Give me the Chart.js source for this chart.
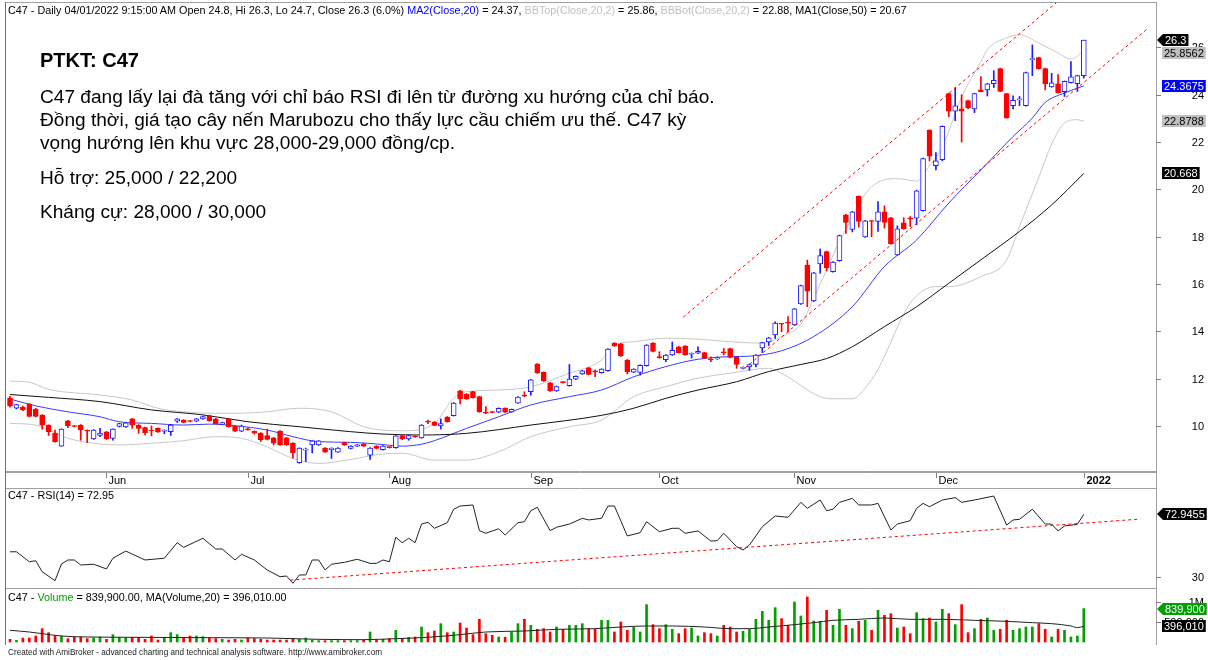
<!DOCTYPE html>
<html lang="vi">
<head>
<meta charset="utf-8">
<title>C47 - Daily</title>
<script src="https://cdn.jsdelivr.net/npm/chart.js@4.4.1/dist/chart.umd.min.js"></script>
<style>
html,body{margin:0;padding:0;background:#fff;}
#wrap{position:relative;width:1208px;height:660px;overflow:hidden;font-family:"Liberation Sans",Arial,sans-serif;color:#000;}
canvas{position:absolute;left:0;}
.t{position:absolute;white-space:nowrap;font-size:10.8px;line-height:12px;}
.note{position:absolute;left:40px;white-space:nowrap;font-size:19.1px;line-height:22px;}
</style>
</head>
<body>
<div id="wrap">
<canvas id="cP" width="1208" height="472" style="top:0px"></canvas>
<canvas id="cR" width="1208" height="117" style="top:472px"></canvas>
<canvas id="cV" width="1208" height="71" style="top:589px"></canvas>

<div class="t" style="left:8px;top:4px">C47 - Daily 04/01/2022 9:15:00 AM Open 24.8, Hi 26.3, Lo 24.7, Close 26.3 (6.0%) <span style="color:#0000ff">MA2(Close,20)</span> = 24.37, <span style="color:#c0c0c0">BBTop(Close,20,2)</span> = 25.86, <span style="color:#c0c0c0">BBBot(Close,20,2)</span> = 22.88, MA1(Close,50) = 20.67</div>
<div class="t" style="left:8px;top:489px">C47 - RSI(14) = 72.95</div>
<div class="t" style="left:8px;top:591px">C47 - <span style="color:#00a000">Volume</span> = 839,900.00, MA(Volume,20) = 396,010.00</div>
<div class="t" style="left:8px;top:647px;font-size:8.2px;color:#222">Created with AmiBroker - advanced charting and technical analysis software. http://www.amibroker.com</div>

<div class="note" style="top:49px;font-weight:bold;font-size:20px">PTKT: C47</div>
<div class="note" style="top:86px">C47 đang lấy lại đà tăng với chỉ báo RSI đi lên từ đường xu hướng của chỉ báo.</div>
<div class="note" style="top:109px">Đồng thời, giá tạo cây nến Marubozu cho thấy lực cầu chiếm ưu thế. C47 kỳ</div>
<div class="note" style="top:132px">vọng hướng lên khu vực 28,000-29,000 đồng/cp.</div>
<div class="note" style="top:167px">Hỗ trợ: 25,000 / 22,200</div>
<div class="note" style="top:201px">Kháng cự: 28,000 / 30,000</div>
</div>

<script>
// ---------------- DATA ----------------
const OPEN = [
11.18,10.75,10.80,10.93,10.72,10.46,10.04,9.70,9.15,10.22,
10.00,10.04,9.82,9.45,9.60,9.75,9.48,9.98,9.96,10.30,
10.04,9.93,9.81,9.90,9.78,9.76,10.20,10.25,10.21,10.20,
10.30,10.44,10.30,10.08,10.30,10.00,9.78,9.87,9.78,9.70,
9.60,9.50,9.79,9.50,9.28,8.45,8.98,9.20,9.20,9.07,
9.00,8.90,9.30,9.05,9.15,9.25,8.77,9.15,9.00,9.11,
9.08,9.60,9.45,9.56,9.50,10.18,10.17,10.00,10.38,10.44,
11.49,11.35,11.45,11.24,10.56,10.59,10.58,10.75,10.60,10.97,
11.28,11.45,12.62,12.27,11.82,11.48,11.85,11.70,11.98,12.20,
12.46,12.31,12.25,12.34,13.50,13.47,12.79,12.27,12.26,12.55,
13.50,12.91,12.80,13.00,13.35,13.38,13.03,13.08,13.10,12.81,
12.83,13.11,13.27,12.90,12.43,12.50,12.60,13.30,13.55,13.85,
14.32,14.36,14.27,15.16,16.80,15.28,16.85,17.37,16.52,16.98,
18.92,18.30,19.70,17.99,18.66,18.64,19.05,18.80,17.23,18.58,
18.77,18.78,19.10,22.50,21.00,21.25,24.04,23.30,23.40,23.75,
23.40,24.20,24.20,24.46,25.10,24.04,23.53,23.78,23.53,25.48,
25.56,25.10,24.33,24.46,24.12,24.50,24.46,24.80];
const HIGH = [
11.25,10.92,10.84,10.95,10.75,10.48,10.05,9.83,9.88,10.24,
10.02,10.06,9.84,9.85,9.90,9.77,9.88,10.12,10.15,10.32,
10.06,9.95,10.00,9.92,9.84,10.06,10.32,10.27,10.23,10.32,
10.42,10.46,10.32,10.16,10.32,10.02,10.04,9.92,9.80,9.72,
9.87,9.52,9.81,9.52,9.30,9.08,9.07,9.38,9.39,9.09,
9.08,9.09,9.32,9.17,9.22,9.27,9.09,9.17,9.17,9.13,
9.60,9.63,9.62,9.58,10.06,10.25,10.19,10.30,10.40,10.99,
11.51,11.37,11.47,11.26,10.82,10.62,10.77,10.77,10.72,11.24,
11.45,11.97,12.64,12.29,11.84,11.69,11.87,12.60,12.12,12.35,
12.48,12.37,12.42,13.27,13.52,13.49,12.81,12.42,12.58,13.44,
13.52,13.14,13.02,13.55,13.37,13.40,13.09,13.35,13.12,12.92,
12.92,13.28,13.29,12.92,12.50,12.62,13.02,13.54,13.75,14.40,
14.34,14.62,14.97,15.95,17.01,16.49,17.48,17.39,16.95,18.07,
18.94,19.07,19.72,18.69,18.68,19.48,19.30,18.82,18.45,18.80,
18.85,19.96,21.32,22.52,21.55,22.68,24.06,24.30,24.00,23.77,
24.06,24.76,24.48,25.01,25.12,24.06,23.95,23.92,24.95,26.10,
25.58,25.12,24.90,24.85,24.58,25.40,24.82,26.30];
const LOW = [
10.80,10.72,10.65,10.38,10.38,9.87,9.60,9.32,9.14,9.93,
9.96,9.40,9.30,9.43,9.55,9.43,9.40,9.96,9.94,9.90,
9.69,9.62,9.58,9.73,9.68,9.60,10.15,10.13,10.17,10.18,
10.28,10.20,10.08,10.06,9.95,9.76,9.76,9.82,9.66,9.35,
9.41,9.20,9.18,9.18,8.64,8.43,8.50,8.86,9.18,8.88,
8.63,8.88,9.18,9.03,9.13,9.13,8.59,9.03,8.98,9.07,
9.06,9.42,9.40,9.52,9.48,10.10,10.01,9.87,10.16,10.42,
10.93,11.12,11.18,10.58,10.52,10.55,10.56,10.56,10.58,10.95,
11.24,11.30,12.22,11.88,11.46,11.46,11.81,11.68,11.96,12.18,
12.16,12.08,12.23,12.32,13.36,12.94,12.20,12.25,12.15,12.53,
13.13,12.86,12.72,12.98,13.08,12.98,12.87,13.06,12.85,12.72,
12.81,13.00,12.88,12.44,12.41,12.35,12.50,13.10,13.40,13.70,
13.98,13.98,14.25,15.14,15.04,15.26,16.45,16.55,16.50,16.96,
18.14,18.20,18.40,17.97,18.00,18.22,18.36,17.68,17.21,18.31,
18.43,18.50,19.08,21.20,20.82,21.20,23.07,22.90,22.00,23.40,
23.24,24.11,23.94,24.30,24.12,23.00,23.40,23.53,23.51,24.80,
25.08,24.20,24.31,24.06,23.92,24.48,24.13,24.70];
const CLOSE = [
10.85,10.90,10.68,10.40,10.40,10.04,9.76,9.34,9.87,10.00,
9.98,9.83,9.78,9.83,9.70,9.45,9.87,10.10,10.13,10.04,
9.90,9.72,9.79,9.75,9.82,10.04,10.30,10.15,10.19,10.30,
10.40,10.22,10.10,10.14,9.97,9.78,10.00,9.84,9.70,9.42,
9.43,9.27,9.20,9.20,8.87,9.07,9.02,9.37,9.37,8.90,
9.07,9.07,9.20,9.15,9.20,9.15,9.07,9.05,9.15,9.09,
9.58,9.45,9.60,9.54,10.04,10.16,10.03,10.10,10.18,10.97,
11.14,11.14,11.20,10.60,10.54,10.57,10.75,10.58,10.70,11.22,
11.26,11.95,12.24,11.90,11.48,11.67,11.83,11.98,12.10,12.33,
12.18,12.29,12.40,13.25,13.38,12.96,12.30,12.40,12.56,13.42,
13.15,12.89,13.00,13.20,13.10,13.00,13.07,13.15,12.87,12.79,
12.88,13.09,12.90,12.60,12.48,12.60,13.00,13.52,13.73,14.35,
14.30,14.34,14.95,15.93,15.70,16.47,17.20,16.68,16.93,18.05,
18.60,19.05,18.64,18.67,18.64,19.05,18.60,17.70,18.33,18.33,
18.75,19.94,21.30,21.40,21.20,22.66,23.30,23.53,23.30,23.44,
24.04,24.13,24.46,24.60,24.14,23.02,23.76,23.82,24.93,25.52,
25.10,24.46,24.50,24.08,24.56,24.75,24.80,26.30];
const VOLUME = [
67000,42000,101000,101000,151000,336000,235000,151000,151000,84000,
126000,126000,84000,101000,126000,67000,185000,118000,101000,118000,
118000,67000,151000,50000,118000,235000,185000,118000,151000,151000,
134000,101000,84000,67000,50000,67000,50000,101000,84000,67000,
50000,50000,50000,50000,84000,67000,101000,50000,34000,34000,
34000,34000,34000,34000,34000,50000,252000,50000,67000,84000,
294000,84000,118000,126000,378000,235000,277000,462000,235000,252000,
479000,353000,185000,571000,210000,168000,126000,118000,252000,462000,
571000,420000,319000,336000,252000,378000,319000,420000,420000,462000,
336000,319000,546000,546000,252000,504000,294000,378000,252000,941000,
437000,336000,437000,319000,210000,336000,353000,151000,235000,210000,
151000,420000,378000,252000,269000,319000,571000,773000,546000,865000,
588000,420000,1008000,655000,1134000,529000,521000,798000,420000,823000,
420000,336000,521000,546000,294000,798000,672000,714000,353000,378000,
210000,739000,588000,605000,504000,823000,714000,437000,941000,235000,
336000,571000,605000,294000,319000,546000,294000,336000,378000,378000,
462000,319000,126000,319000,294000,126000,151000,839900];

// indicator lines, read as [bar index, value]
const MA20 = [[0,11.14],[4,10.85],[9,10.6],[14,10.39],[17,10.18],[22,10.11],[27,10.04],[31,10.08],[35,10.01],[40,9.83],[44,9.55],[48,9.34],[53,9.31],[57,9.24],[61,9.15],[64,9.23],[66,9.38],[71,9.9],[76,10.39],[81,10.89],[87,11.24],[92,11.52],[97,12.08],[102,12.51],[107,12.82],[112,12.93],[115,12.95],[120,13.18],[125,13.78],[131,15.04],[136,16.74],[141,17.86],[146,19.42],[151,20.82],[154,21.67],[156,22.23],[159,23.01],[161,23.67],[164,24.07],[167,24.3675]];
const MA50 = [[0,11.33],[6,11.21],[14,11.03],[22,10.68],[30,10.47],[37,10.18],[45,9.97],[53,9.76],[58,9.66],[64,9.62],[71,9.69],[81,10.04],[92,10.45],[97,10.75],[102,11.17],[107,11.52],[113,11.87],[118,12.3],[123,12.6],[127,12.85],[131,13.35],[136,14.2],[141,15.04],[146,16.03],[151,17.02],[157,18.22],[162,19.34],[167,20.668]];
const BB_TOP = [[0,11.9],[3,11.85],[6,11.55],[14,11.31],[19,11.1],[23,10.75],[27,10.6],[32,10.54],[36,10.54],[40,10.6],[45,10.75],[50,10.6],[55,9.97],[61,9.8],[66,10.11],[69,11.17],[71,11.45],[76,11.52],[81,11.66],[87,12.23],[92,12.79],[94,13.42],[97,13.56],[102,13.71],[107,13.67],[112,13.56],[117,13.5],[120,13.78],[123,14.3],[125,15.4],[127,16.6],[129,17.8],[131,18.8],[133,19.8],[135,20.3],[138,20.45],[141,20.35],[143,21.0],[145,21.8],[148,23.9],[151,25.4],[152,25.9],[155,26.4],[157,26.53],[160,26.18],[163,25.76],[165,25.5],[167,25.8562]];
const BB_BOT = [[0,10.11],[4,10.04],[9,9.48],[14,9.24],[17,9.2],[22,9.27],[27,9.38],[32,9.55],[36,9.48],[40,9.12],[44,8.63],[48,8.42],[53,8.59],[58,8.82],[61,8.85],[66,8.56],[71,8.56],[76,8.91],[81,9.55],[87,9.97],[92,10.25],[97,11.24],[102,11.66],[107,12.02],[112,12.23],[118,12.44],[120,12.23],[126,11.24],[128,11.15],[131,11.15],[133,11.6],[135,12.4],[140,15.19],[144,15.89],[146,15.89],[151,16.31],[155,17.02],[157,18.43],[160,20.5],[162,21.9],[164,22.8],[166,22.94],[167,22.8788]];
const RSI14 = [[0,47.4],[1,47.4],[3,40.6],[4,41.3],[5,33.8],[7,27.7],[8,39.1],[9,41.8],[10,41.8],[11,38.4],[13,38.9],[15,35.7],[16,43.0],[18,47.9],[21,41.8],[24,43.0],[26,53.6],[27,50.4],[30,56.6],[32,49.3],[33,49.3],[35,41.8],[36,45.7],[38,41.8],[40,35.0],[42,30.4],[43,30.9],[44,25.9],[45,31.6],[46,31.6],[47,41.8],[48,41.8],[49,35.0],[50,38.9],[52,40.2],[54,42.3],[56,39.5],[57,39.5],[58,41.8],[59,40.6],[60,57.3],[61,53.6],[62,56.6],[63,53.6],[64,66.3],[65,67.5],[66,63.4],[68,67.2],[69,76.4],[70,78.6],[72,79.3],[73,61.8],[74,60.0],[76,63.1],[77,58.8],[79,67.2],[80,67.9],[81,75.4],[82,77.7],[84,61.8],[85,64.1],[87,66.3],[89,70.2],[90,69.1],[92,70.2],[93,78.6],[94,78.6],[96,58.2],[98,60.4],[99,67.9],[101,61.1],[103,63.4],[104,63.4],[105,60.0],[107,61.6],[109,54.7],[110,55.0],[111,60.0],[113,50.9],[114,48.6],[115,52.0],[117,64.5],[119,71.8],[121,70.9],[123,81.1],[124,77.0],[126,82.7],[127,75.4],[128,76.4],[129,81.1],[131,83.8],[132,79.3],[134,79.3],[135,80.4],[137,62.2],[138,66.3],[140,68.6],[141,77.0],[142,80.4],[143,78.1],[145,82.7],[147,84.3],[148,81.1],[150,82.7],[153,85.4],[155,65.6],[156,69.1],[157,69.5],[159,76.4],[161,66.3],[162,66.3],[163,61.6],[164,65.0],[166,66.1],[167,72.9455]];
const VOL_MA20 = [[0,294000],[3,252000],[5,210000],[8,151000],[12,126000],[20,118000],[30,109000],[40,101000],[48,67000],[55,59000],[60,84000],[65,118000],[70,185000],[74,252000],[80,277000],[85,319000],[91,336000],[95,378000],[99,403000],[103,403000],[108,378000],[112,336000],[115,336000],[118,378000],[122,437000],[125,487000],[128,546000],[132,571000],[136,605000],[140,571000],[145,571000],[150,546000],[155,521000],[159,487000],[162,462000],[165,403000],[166,361000],[167,396010]];

// hand-drawn trend lines [bar index, value]
const PRICE_TREND_UP = [[104.7,14.6],[165,28.4]];
const PRICE_TREND_LOW = [[114.3,12.45],[176.8,26.76]];
const RSI_TREND = [[43.6,28.1],[175.8,69.7]];

// axis ticks / labels
const MONTH_TICKS = [15,37,59,81,101,122,144,167];
const MONTH_LABELS = ['Jun','Jul','Aug','Sep','Oct','Nov','Dec','2022'];
const PRICE_TICKS = [10,12,14,16,18,20,22,24,26];
const RSI_TICKS = [30];
const VOL_TICKS = [500000,1000000];
const VOL_TICK_LABELS = ['500,000','1M'];
const PRICE_TAG_VALUES = [26.3,25.8562,24.3675,22.8788,20.668];
const RSI_TAG_VALUES = [72.9455];
const VOL_TAG_VALUES = [839900,396010];

// ---------------- drawing ----------------
const BLUE = '#1c1cff', RED = '#ff0000', GREEN = '#00a000', FRAME = '#a0a0a0';
const FONT = '"Liberation Sans", Arial, sans-serif';
const IDX = CLOSE.map((_, i) => i);
const isUp = i => CLOSE[i] >= OPEN[i];
const pts = arr => arr.map(([x, y]) => ({x, y}));
const X_SCALE = {type:'linear', min:-0.78, max:178.23, display:false, offset:false};
const baseOpts = (pad, yMin, yMax) => ({
  animation:false, responsive:false, devicePixelRatio:1, events:[],
  layout:{padding:pad},
  plugins:{legend:{display:false}, tooltip:{enabled:false}},
  scales:{x:X_SCALE, y:{type:'linear', min:yMin, max:yMax, display:false}}
});
function lineDS(arr, color, extra) {
  return Object.assign({type:'line', data:pts(arr), borderColor:color, borderWidth:1,
    pointRadius:0, fill:false, tension:0, order:5}, extra || {});
}
function hline(ctx, x1, x2, y) { ctx.beginPath(); ctx.moveTo(x1, y); ctx.lineTo(x2, y); ctx.stroke(); }
function vline(ctx, x, y1, y2) { ctx.beginPath(); ctx.moveTo(x, y1); ctx.lineTo(x, y2); ctx.stroke(); }

function drawTicks(ctx, scale, values, labels) {
  ctx.strokeStyle = '#808080'; ctx.fillStyle = '#000';
  ctx.font = '11px ' + FONT; ctx.textAlign = 'right'; ctx.textBaseline = 'middle';
  values.forEach((v, k) => {
    const y = Math.round(scale.getPixelForValue(v)) + 0.5;
    hline(ctx, 1156, 1161, y);
    ctx.fillText(labels ? labels[k] : String(v), 1204, y);
  });
}
function drawTag(ctx, y, text, bg, fg, arrow) {
  ctx.font = '11px ' + FONT;
  const w = ctx.measureText(text).width + 4, h = 12;
  const x0 = arrow ? 1163 : 1162;
  ctx.fillStyle = bg;
  ctx.beginPath();
  if (arrow) {
    ctx.moveTo(1157, y); ctx.lineTo(x0, y - h / 2); ctx.lineTo(x0 + w, y - h / 2);
    ctx.lineTo(x0 + w, y + h / 2); ctx.lineTo(x0, y + h / 2); ctx.closePath();
  } else {
    ctx.rect(x0, y - h / 2, w, h);
  }
  ctx.fill();
  ctx.fillStyle = fg; ctx.textAlign = 'left'; ctx.textBaseline = 'middle';
  ctx.fillText(text, x0 + 2, y + 0.5);
}
function drawTags(ctx, scale, values, fmt, styles) {
  const items = values.map((v, k) => ({y: scale.getPixelForValue(v), text: fmt(v), s: styles[k]}));
  const order = items.slice().sort((a, b) => a.y - b.y);
  for (let k = 1; k < order.length; k++) if (order[k].y < order[k - 1].y + 13) order[k].y = order[k - 1].y + 13;
  items.slice().reverse().forEach(it => drawTag(ctx, Math.round(it.y), it.text, it.s.bg, it.s.fg, it.s.arrow));
}

// ---- price pane ----
new Chart(document.getElementById('cP'), {
  type:'bar',
  data:{datasets:[
    {label:'body', data:IDX.map(i => ({x:i, y:[OPEN[i], CLOSE[i]]})),
      backgroundColor:c => isUp(c.dataIndex) ? '#ffffff' : RED,
      borderColor:c => isUp(c.dataIndex) ? BLUE : RED,
      borderWidth:1, borderSkipped:false, barThickness:5, minBarLength:1, grouped:false, order:1},
    {label:'wick', data:IDX.map(i => ({x:i, y:[LOW[i], HIGH[i]]})),
      backgroundColor:c => isUp(c.dataIndex) ? BLUE : RED,
      borderWidth:0, barThickness:1, grouped:false, order:2},
    lineDS(BB_TOP, '#c8c8c8', {cubicInterpolationMode:'monotone', order:7}),
    lineDS(BB_BOT, '#c8c8c8', {cubicInterpolationMode:'monotone', order:7}),
    lineDS(MA50, '#111111', {cubicInterpolationMode:'monotone', order:6}),
    lineDS(MA20, '#3a3aff', {cubicInterpolationMode:'monotone', order:6}),
    lineDS(PRICE_TREND_UP, RED, {borderDash:[3,3], order:0}),
    lineDS(PRICE_TREND_LOW, RED, {borderDash:[3,3], order:0})
  ]},
  options: baseOpts({left:5, top:2, right:52, bottom:0}, 8.057, 27.913),
  plugins:[{id:'decoP', afterDraw(chart) {
    const ctx = chart.ctx, a = chart.chartArea, ys = chart.scales.y;
    ctx.save();
    ctx.lineWidth = 1; ctx.strokeStyle = FRAME;
    hline(ctx, 5, 1156, a.top + 0.5);
    hline(ctx, 5, 1156, a.bottom - 0.5);
    vline(ctx, 1156.5, a.top, a.bottom);
    ctx.strokeStyle = '#707070';
    vline(ctx, 5.5, a.top, a.bottom);
    drawTicks(ctx, ys, PRICE_TICKS);
    drawTags(ctx, ys, PRICE_TAG_VALUES, v => String(v), [
      {bg:'#000', fg:'#fff', arrow:true}, {bg:'#c0c0c0', fg:'#000'}, {bg:'#0000ff', fg:'#fff'},
      {bg:'#c0c0c0', fg:'#000'}, {bg:'#000', fg:'#fff'}]);
    ctx.restore();
  }}]
});

// ---- RSI pane (with date band on top) ----
new Chart(document.getElementById('cR'), {
  type:'line',
  data:{datasets:[
    lineDS(RSI14, '#222222', {order:2}),
    lineDS(RSI_TREND, RED, {borderDash:[3,3], order:1})
  ]},
  options: baseOpts({left:5, top:17, right:52, bottom:1}, 22.71, 90.19),
  plugins:[{id:'decoR', afterDraw(chart) {
    const ctx = chart.ctx, a = chart.chartArea, xs = chart.scales.x, ys = chart.scales.y;
    ctx.save();
    ctx.lineWidth = 1; ctx.strokeStyle = FRAME;
    hline(ctx, 5, 1156, 0.5);
    hline(ctx, 5, 1156, a.top - 0.5);
    hline(ctx, 5, 1156, a.bottom + 0.5);
    vline(ctx, 1156.5, 0, chart.height);
    ctx.strokeStyle = '#707070';
    vline(ctx, 5.5, 0, a.bottom + 1);
    // month band
    ctx.strokeStyle = '#808080'; ctx.fillStyle = '#000'; ctx.textAlign = 'left'; ctx.textBaseline = 'middle';
    MONTH_TICKS.forEach((m, k) => {
      const x = Math.round(xs.getPixelForValue(m)) + 0.5;
      vline(ctx, x, 1, 6);
      ctx.font = (MONTH_LABELS[k] === '2022' ? 'bold ' : '') + '11px ' + FONT;
      ctx.fillText(MONTH_LABELS[k], x + 2, 9);
    });
    drawTicks(ctx, ys, RSI_TICKS);
    drawTags(ctx, ys, RSI_TAG_VALUES, v => v.toFixed(4), [{bg:'#000', fg:'#fff', arrow:true}]);
    ctx.restore();
  }}]
});

// ---- Volume pane ----
new Chart(document.getElementById('cV'), {
  type:'bar',
  data:{datasets:[
    {label:'vol', data:IDX.map(i => ({x:i, y:VOLUME[i]})),
      backgroundColor:c => isUp(c.dataIndex) ? GREEN : RED,
      borderWidth:0, barThickness:2, grouped:false, order:2},
    lineDS(VOL_MA20, '#222222', {cubicInterpolationMode:'monotone', order:1})
  ]},
  options: baseOpts({left:5, top:1, right:52, bottom:15}, -75600, 1309800),
  plugins:[{id:'decoV', afterDraw(chart) {
    const ctx = chart.ctx, a = chart.chartArea, ys = chart.scales.y;
    ctx.save();
    ctx.lineWidth = 1; ctx.strokeStyle = FRAME;
    vline(ctx, 1156.5, 0, a.bottom);
    ctx.strokeStyle = '#707070';
    vline(ctx, 5.5, 0, a.bottom);
    drawTicks(ctx, ys, VOL_TICKS, VOL_TICK_LABELS);
    drawTags(ctx, ys, VOL_TAG_VALUES, v => v.toLocaleString('en-US'), [
      {bg:GREEN, fg:'#fff', arrow:true}, {bg:'#000', fg:'#fff'}]);
    ctx.restore();
  }}]
});
</script>
</body>
</html>
